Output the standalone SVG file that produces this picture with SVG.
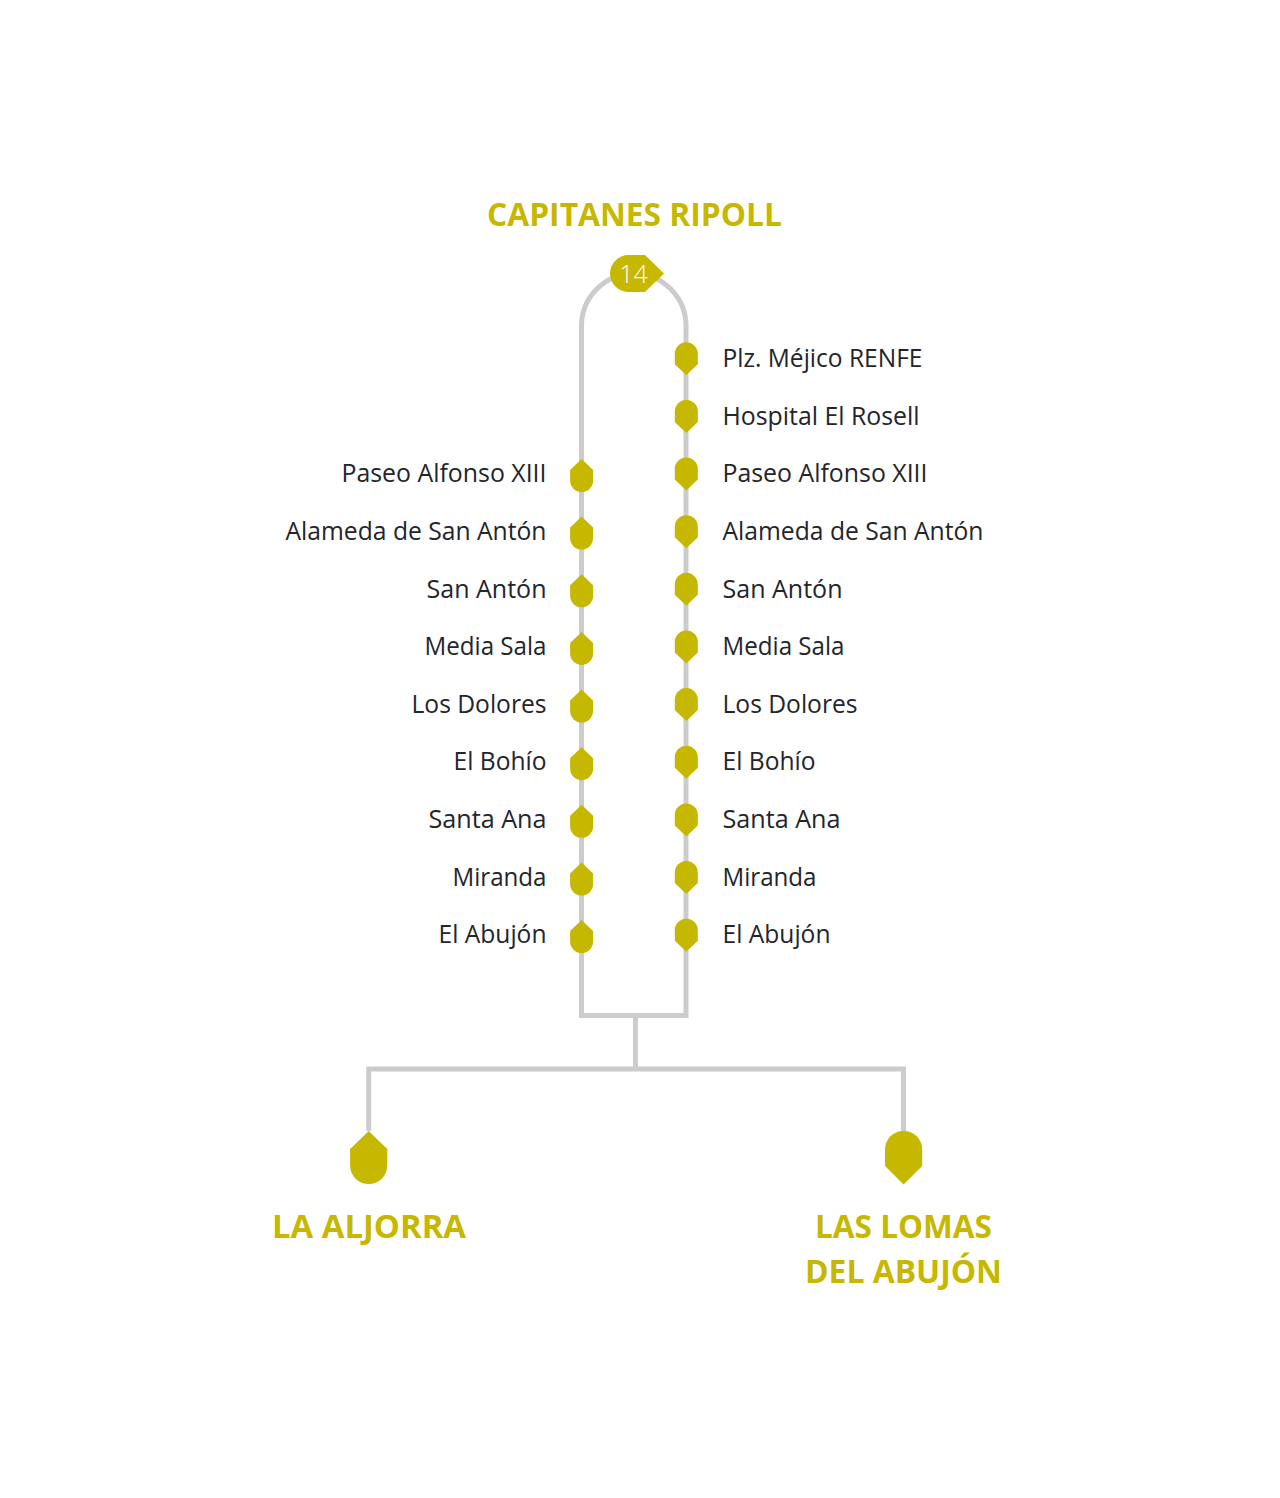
<svg xmlns="http://www.w3.org/2000/svg" width="1280" height="1498" viewBox="0 0 1280 1498">
<style>
.l{font-family:"Open Sans","Liberation Sans",sans-serif;font-size:25px;fill:#23252b}
.e{text-anchor:end}
.t{font-family:"Open Sans","Liberation Sans",sans-serif;font-size:32px;font-weight:700;fill:#c6b700;text-anchor:middle}
.m{fill:#c6b700}
.c{fill:none;stroke:#cccccc;stroke-width:5}
</style>
<defs>
<path id="d" d="M-11.5-5A11.500 11.500 0 0 1 11.500-5V5.500L0 16.500L-11.500 5.500Z"/>
<path id="u" d="M-11.500 5A11.500 11.500 0 0 0 11.500 5V-5.500L0-16.500L-11.500-5.500Z"/>
</defs>
<rect width="1280" height="1498" fill="#fff"/>
<g id="connectors">
<path class="c" d="M581.500 960V326A52.250 52.250 0 0 1 686 326V960M581.500 950V1015.500H686V950"/>
<path class="c" d="M635.500 1015.500V1069M368.700 1131V1069H903.500V1131"/>
</g>
<g id="title"><text class="t" x="634.500" y="226" textLength="295" lengthAdjust="spacingAndGlyphs">CAPITANES RIPOLL</text></g>
<g id="badge"><path class="m" d="M628.500 255H645L664 273.500L645 292H628.500A18.500 18.500 0 0 1 628.500 255Z"/><text x="633.500" y="282.500" text-anchor="middle" font-family="Open Sans,sans-serif" font-size="25" font-weight="300" fill="#fff">14</text></g>
<g id="r1"><use class="m" href="#d" x="686.300" y="358.800"/><text class="l" x="722.500" y="366.500" textLength="200" lengthAdjust="spacingAndGlyphs">Plz. Méjico RENFE</text></g>
<g id="r2"><use class="m" href="#d" x="686.300" y="416.400"/><text class="l" x="722.500" y="424.500" textLength="197" lengthAdjust="spacingAndGlyphs">Hospital El Rosell</text></g>
<g id="r3"><use class="m" href="#d" x="686.300" y="474"/><text class="l" x="722.500" y="482" textLength="205" lengthAdjust="spacingAndGlyphs">Paseo Alfonso XIII</text></g>
<g id="r4"><use class="m" href="#d" x="686.300" y="531.700"/><text class="l" x="722.500" y="539.800" textLength="261" lengthAdjust="spacingAndGlyphs">Alameda de San Antón</text></g>
<g id="r5"><use class="m" href="#d" x="686.300" y="589.300"/><text class="l" x="722.500" y="597.500" textLength="120" lengthAdjust="spacingAndGlyphs">San Antón</text></g>
<g id="r6"><use class="m" href="#d" x="686.300" y="647"/><text class="l" x="722.500" y="655" textLength="122" lengthAdjust="spacingAndGlyphs">Media Sala</text></g>
<g id="r7"><use class="m" href="#d" x="686.300" y="704.600"/><text class="l" x="722.500" y="712.700" textLength="135" lengthAdjust="spacingAndGlyphs">Los Dolores</text></g>
<g id="r8"><use class="m" href="#d" x="686.300" y="762.200"/><text class="l" x="722.500" y="770.300" textLength="93" lengthAdjust="spacingAndGlyphs">El Bohío</text></g>
<g id="r9"><use class="m" href="#d" x="686.300" y="819.900"/><text class="l" x="722.500" y="828" textLength="118" lengthAdjust="spacingAndGlyphs">Santa Ana</text></g>
<g id="r10"><use class="m" href="#d" x="686.300" y="877.500"/><text class="l" x="722.500" y="885.600" textLength="94" lengthAdjust="spacingAndGlyphs">Miranda</text></g>
<g id="r11"><use class="m" href="#d" x="686.300" y="935.200"/><text class="l" x="722.500" y="943.200" textLength="108" lengthAdjust="spacingAndGlyphs">El Abujón</text></g>
<g id="l3"><use class="m" href="#u" x="581.600" y="475.500"/><text class="l e" x="546.500" y="482" textLength="205" lengthAdjust="spacingAndGlyphs">Paseo Alfonso XIII</text></g>
<g id="l4"><use class="m" href="#u" x="581.600" y="533.100"/><text class="l e" x="546.500" y="539.800" textLength="261" lengthAdjust="spacingAndGlyphs">Alameda de San Antón</text></g>
<g id="l5"><use class="m" href="#u" x="581.600" y="590.800"/><text class="l e" x="546.500" y="597.500" textLength="120" lengthAdjust="spacingAndGlyphs">San Antón</text></g>
<g id="l6"><use class="m" href="#u" x="581.600" y="648.400"/><text class="l e" x="546.500" y="655" textLength="122" lengthAdjust="spacingAndGlyphs">Media Sala</text></g>
<g id="l7"><use class="m" href="#u" x="581.600" y="706"/><text class="l e" x="546.500" y="712.700" textLength="135" lengthAdjust="spacingAndGlyphs">Los Dolores</text></g>
<g id="l8"><use class="m" href="#u" x="581.600" y="763.700"/><text class="l e" x="546.500" y="770.300" textLength="93" lengthAdjust="spacingAndGlyphs">El Bohío</text></g>
<g id="l9"><use class="m" href="#u" x="581.600" y="821.300"/><text class="l e" x="546.500" y="828" textLength="118" lengthAdjust="spacingAndGlyphs">Santa Ana</text></g>
<g id="l10"><use class="m" href="#u" x="581.600" y="879"/><text class="l e" x="546.500" y="885.600" textLength="94" lengthAdjust="spacingAndGlyphs">Miranda</text></g>
<g id="l11"><use class="m" href="#u" x="581.600" y="936.600"/><text class="l e" x="546.500" y="943.200" textLength="108" lengthAdjust="spacingAndGlyphs">El Abujón</text></g>
<g id="laaljorra"><path class="m" d="M368.700 1131L387.300 1149V1165.500A18.600 18.600 0 0 1 350.100 1165.500V1149Z"/><text class="t" x="369" y="1238" textLength="194" lengthAdjust="spacingAndGlyphs">LA ALJORRA</text></g>
<g id="laslomas"><path class="m" d="M885 1149.500A18.600 18.600 0 0 1 922.200 1149.500V1166L903.600 1184.500L885 1166Z"/><text class="t" x="903.500" y="1238" textLength="177" lengthAdjust="spacingAndGlyphs">LAS LOMAS</text><text class="t" x="903.500" y="1283" textLength="197" lengthAdjust="spacingAndGlyphs">DEL ABUJÓN</text></g>
</svg>
